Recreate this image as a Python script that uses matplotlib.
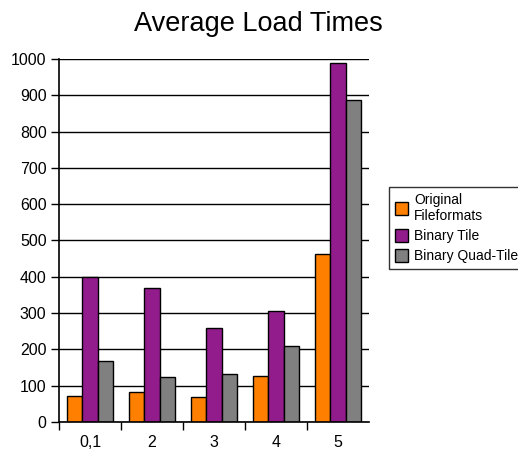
import matplotlib
matplotlib.use('Agg')
import matplotlib.pyplot as plt
import numpy as np

plt.rcParams['font.family'] = ['Liberation Sans', 'DejaVu Sans']

categories = ['0,1', '2', '3', '4', '5']
series     = ['Original\nFileformats', 'Binary Tile', 'Binary Quad-Tile']
original   = [71, 82, 70, 127, 462]
binary     = [400, 370, 258, 306, 988]
quadtile   = [167, 123, 133, 210, 887]
colors     = ['#FF8000', '#921C8C', '#808080']
yticks     = np.arange(0, 1001, 100)

fig = plt.figure(figsize=(5.18, 4.53), dpi=100)
ax  = fig.add_axes([0.1139, 0.0684, 0.5985, 0.8014])

x     = np.arange(len(categories))
width = 0.25
for k, (vals, label) in enumerate(zip([original, binary, quadtile], series)):
    ax.bar(x + (k - 1) * width, vals, width, color=colors[k],
           edgecolor='black', linewidth=1.0, label=label, zorder=3)

ax.set_xlim(-0.5, len(categories) - 0.5)
ax.set_ylim(0, 1000)
ax.set_yticks(yticks)
ax.tick_params(axis='y', labelsize=11.5, length=6, width=1.0, pad=3)
ax.yaxis.grid(True, color='black', linewidth=1.0, zorder=0)

ax.set_xticks(x)
ax.set_xticklabels(categories)
ax.tick_params(axis='x', which='major', length=0, labelsize=11.5, pad=9)
ax.set_xticks(np.arange(-0.5, len(categories) - 1, 1.0), minor=True)
ax.tick_params(axis='x', which='minor', length=6, width=1.0)

for s in ['top', 'right']:
    ax.spines[s].set_visible(False)
for s in ['left', 'bottom']:
    ax.spines[s].set_linewidth(1.2)
    ax.spines[s].set_zorder(4)

fig.text(0.498, 0.947, 'Average Load Times', ha='center', va='center', fontsize=19.5)

leg = fig.legend(loc='upper left', bbox_to_anchor=(0.751, 0.587), fontsize=10,
                 frameon=True, fancybox=False, edgecolor='black',
                 handlelength=1.0, handleheight=1.0, handletextpad=0.4,
                 borderpad=0.4, labelspacing=0.45, borderaxespad=0)
leg.get_frame().set_linewidth(1.0)

fig.savefig('out.png', dpi=100)
